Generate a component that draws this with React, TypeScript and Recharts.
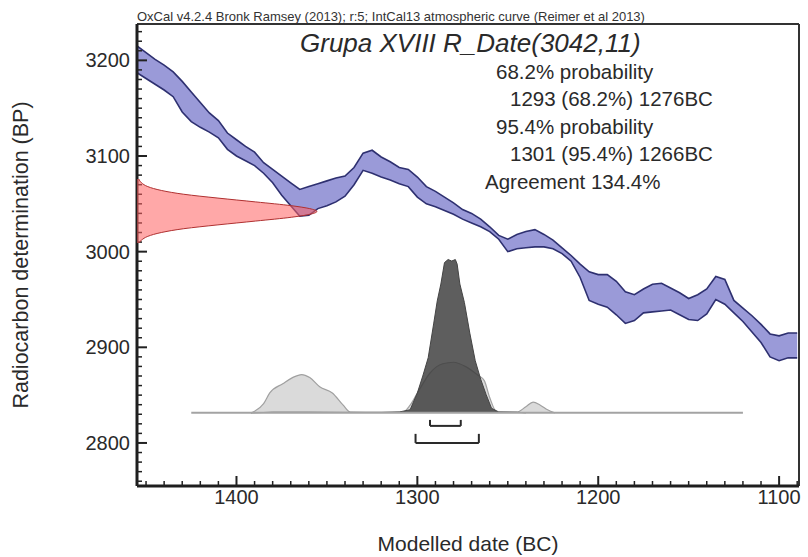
import React from 'react';
import { Area, ComposedChart, ReferenceLine, XAxis, YAxis } from 'recharts';

const W = 808;
const H = 557;
const FONT = '"Liberation Sans", Arial, sans-serif';
const INK = '#2a2a2a';

// axis ranges (years BC run right-to-left, so the x axis is reversed)
const X_DOMAIN = [1089, 1455];
const Y_DOMAIN = [2755, 3238];
const PROB_DOMAIN = [-0.477, 2.536];
const DATE_DOMAIN = [0, 3.68];

const X_TICKS = [
  1450, 1440, 1430, 1420, 1410, 1400, 1390, 1380, 1370, 1360, 1350, 1340, 1330,
  1320, 1310, 1300, 1290, 1280, 1270, 1260, 1250, 1240, 1230, 1220, 1210, 1200,
  1190, 1180, 1170, 1160, 1150, 1140, 1130, 1120, 1110, 1100, 1090,
];
const X_LABELS = [1400, 1300, 1200, 1100];
const Y_TICKS = [
  2760, 2770, 2780, 2790, 2800, 2810, 2820, 2830, 2840, 2850, 2860, 2870, 2880,
  2890, 2900, 2910, 2920, 2930, 2940, 2950, 2960, 2970, 2980, 2990, 3000, 3010,
  3020, 3030, 3040, 3050, 3060, 3070, 3080, 3090, 3100, 3110, 3120, 3130, 3140,
  3150, 3160, 3170, 3180, 3190, 3200, 3210, 3220, 3230,
];
const Y_LABELS = [2800, 2900, 3000, 3100, 3200];

// IntCal13 band, upper and lower edge (BP) every 5 years
const CURVE_YEARS = [
  1455, 1450, 1445, 1440, 1435, 1430, 1425, 1420, 1415, 1410, 1405, 1400, 1395,
  1390, 1385, 1380, 1375, 1370, 1365, 1360, 1355, 1350, 1345, 1340, 1335, 1330,
  1325, 1320, 1315, 1310, 1305, 1300, 1295, 1290, 1285, 1280, 1275, 1270, 1265,
  1260, 1255, 1250, 1245, 1240, 1235, 1230, 1225, 1220, 1215, 1210, 1205, 1200,
  1195, 1190, 1185, 1180, 1175, 1170, 1165, 1160, 1155, 1150, 1145, 1140, 1135,
  1130, 1125, 1120, 1115, 1110, 1105, 1100, 1095, 1090,
];
const CURVE_HI = [
  3215, 3208, 3201, 3195, 3188, 3178, 3167, 3156, 3145, 3137, 3124, 3117, 3110,
  3104, 3093, 3086, 3079, 3072, 3065, 3068, 3071, 3074, 3077, 3079, 3088, 3103,
  3106, 3099, 3094, 3088, 3086, 3078, 3068, 3063, 3057, 3051, 3044, 3040, 3034,
  3026, 3017, 3013, 3018, 3021, 3023, 3018, 3012, 3004, 2996, 2987, 2979, 2976,
  2976, 2969, 2958, 2955, 2961, 2966, 2967, 2962, 2957, 2951, 2955, 2961, 2974,
  2971, 2949, 2941, 2933, 2924, 2914, 2912, 2915, 2915,
];
const CURVE_LO = [
  3187, 3181, 3175, 3169, 3162, 3146, 3136, 3130, 3125, 3119, 3107, 3100, 3095,
  3090, 3082, 3072, 3059, 3048, 3037, 3038, 3045, 3048, 3052, 3058, 3070, 3085,
  3082, 3078, 3075, 3071, 3068, 3057, 3050, 3047, 3043, 3039, 3034, 3030, 3026,
  3021, 3013, 3000, 3003, 3004, 3005, 3005, 3003, 2998, 2990, 2973, 2949, 2945,
  2942, 2934, 2925, 2928, 2936, 2937, 2938, 2939, 2934, 2929, 2928, 2935, 2950,
  2945, 2936, 2927, 2916, 2905, 2890, 2886, 2889, 2889,
];

// R_Date(3042,11) on the y axis, relative probability
const DATE_BP = [
  3076, 3072, 3068, 3064, 3060, 3056, 3052, 3048, 3045, 3042, 3039, 3036, 3032,
  3028, 3024, 3020, 3016, 3012, 3009,
];
const DATE_P = [
  0.01, 0.025, 0.06, 0.135, 0.26, 0.45, 0.66, 0.86, 0.96, 1, 0.96, 0.86, 0.66,
  0.45, 0.26, 0.135, 0.06, 0.025, 0.01,
];

// unmodelled (light) and modelled (dark) calendar distributions
const LIKE_YEARS = [
  1392, 1390, 1385, 1381.6, 1374.4, 1369, 1364, 1359.5, 1354, 1347, 1341, 1337,
  1320, 1308, 1304, 1299, 1293, 1286, 1280, 1273, 1267, 1263, 1260, 1256, 1245,
  1240, 1236, 1232, 1228, 1224,
];
const LIKE_P = [
  0, 0.01, 0.06, 0.13, 0.19, 0.23, 0.25, 0.23, 0.17, 0.13, 0.05, 0.005, 0.003,
  0.005, 0.05, 0.15, 0.26, 0.32, 0.33, 0.3, 0.25, 0.21, 0.1, 0.005, 0.005, 0.04,
  0.07, 0.05, 0.02, 0,
];
const POST_YEARS = [
  1392, 1380, 1360, 1340, 1320, 1310, 1304, 1300, 1297, 1294, 1291, 1289, 1287,
  1285, 1283, 1281, 1279, 1278, 1276.5, 1274, 1271, 1268, 1265, 1262, 1259, 1255,
  1245, 1240,
];
const POST_P = [
  0, 0.004, 0.004, 0.003, 0.003, 0.006, 0.02, 0.13, 0.24, 0.36, 0.58, 0.73, 0.84,
  0.98, 1, 0.99, 1, 0.97, 0.84, 0.72, 0.52, 0.34, 0.22, 0.12, 0.03, 0.006, 0.004, 0,
];

const RANGE_68 = [1293, 1276];
const RANGE_95 = [1301, 1266];

const TITLE = 'Grupa XVIII R_Date(3042,11)';
const CAPTION =
  'OxCal v4.2.4 Bronk Ramsey (2013); r:5; IntCal13 atmospheric curve (Reimer et al 2013)';
const STATS = [
  { text: '68.2% probability', left: 496, top: 62 },
  { text: '1293 (68.2%) 1276BC', left: 510, top: 89 },
  { text: '95.4% probability', left: 496, top: 117 },
  { text: '1301 (95.4%) 1266BC', left: 510, top: 144 },
  { text: 'Agreement 134.4%', left: 485, top: 172 },
];

function XTick({ x, y, payload }: any) {
  const major = X_LABELS.includes(payload.value);
  return (
    <g>
      <line x1={x} x2={x} y1={y} y2={y - (major ? 10 : 5)} stroke="#222" strokeWidth={major ? 2 : 1.5} />
      {major && (
        <text x={x} y={y + 18} textAnchor="middle" fontSize={20} fill={INK} fontFamily={FONT}>
          {payload.value}
        </text>
      )}
    </g>
  );
}

function YTick({ x, y, payload }: any) {
  const major = Y_LABELS.includes(payload.value);
  return (
    <g>
      <line x1={x} x2={x + (major ? 10 : 5)} y1={y} y2={y} stroke="#222" strokeWidth={major ? 2 : 1.5} />
      {major && (
        <text x={x - 7} y={y} dy="0.35em" textAnchor="end" fontSize={20} fill={INK} fontFamily={FONT}>
          {payload.value}
        </text>
      )}
    </g>
  );
}

function bracket(range: number[], low: number, high: number, key: string) {
  const common = { yAxisId: 'prob', stroke: '#2a2a2a', strokeWidth: 2 };
  return [
    <ReferenceLine key={key + 'h'} {...common} segment={[{ x: range[0], y: low }, { x: range[1], y: low }]} />,
    <ReferenceLine key={key + 'l'} {...common} segment={[{ x: range[0], y: low }, { x: range[0], y: high }]} />,
    <ReferenceLine key={key + 'r'} {...common} segment={[{ x: range[1], y: low }, { x: range[1], y: high }]} />,
  ];
}

export default function App() {
  const curve = CURVE_YEARS.map((year, i) => ({ year, band: [CURVE_LO[i], CURVE_HI[i]] }));
  const likelihood = LIKE_YEARS.map((year, i) => ({ year, p: LIKE_P[i] }));
  const posterior = POST_YEARS.map((year, i) => ({ year, p: POST_P[i] }));
  const date = DATE_BP.map((bp, i) => ({ bp, p: DATE_P[i] }));

  return (
    <div style={{ position: 'fixed', left: 0, top: 0, width: W, height: H, background: '#fff', fontFamily: FONT, color: INK }}>
      <div style={{ position: 'absolute', left: 0, top: 0 }}>
        <ComposedChart width={W} height={H} margin={{ top: 24, right: 9, bottom: 0, left: 0 }}>
          <XAxis
            dataKey="year"
            type="number"
            domain={X_DOMAIN}
            reversed
            allowDataOverflow
            ticks={X_TICKS}
            interval={0}
            tickSize={0}
            tickMargin={0}
            tickLine={false}
            tick={(p: any) => <XTick {...p} />}
            height={71}
            axisLine={{ stroke: '#1e1e1e', strokeWidth: 3 }}
          />
          <YAxis
            type="number"
            domain={Y_DOMAIN}
            allowDataOverflow
            ticks={Y_TICKS}
            interval={0}
            tickSize={0}
            tickMargin={0}
            tickLine={false}
            tick={(p: any) => <YTick {...p} />}
            width={137}
            axisLine={{ stroke: '#1e1e1e', strokeWidth: 3 }}
          />
          <YAxis yAxisId="prob" type="number" domain={PROB_DOMAIN} allowDataOverflow hide />
          <ReferenceLine y={Y_DOMAIN[1]} stroke="#333" strokeWidth={2} />
          <ReferenceLine x={X_DOMAIN[0]} stroke="#333" strokeWidth={2} />
          <Area
            data={curve}
            dataKey="band"
            type="linear"
            stroke="#2e3070"
            strokeWidth={1.6}
            fill="#9a9ad8"
            fillOpacity={1}
            isAnimationActive={false}
          />
          <ReferenceLine
            yAxisId="prob"
            segment={[{ x: 1425, y: 0 }, { x: 1120, y: 0 }]}
            stroke="#a3a3a3"
            strokeWidth={2}
          />
          <Area
            data={likelihood}
            yAxisId="prob"
            dataKey="p"
            type="monotone"
            baseValue={0}
            stroke="#a0a0a0"
            strokeWidth={1.2}
            fill="#dadada"
            fillOpacity={1}
            isAnimationActive={false}
          />
          <Area
            data={posterior}
            yAxisId="prob"
            dataKey="p"
            type="linear"
            baseValue={0}
            stroke="#444"
            strokeWidth={1}
            fill="#3a3a3a"
            fillOpacity={0.82}
            isAnimationActive={false}
          />
          {bracket(RANGE_68, -0.085, -0.046, 'b68')}
          {bracket(RANGE_95, -0.196, -0.137, 'b95')}
        </ComposedChart>
      </div>
      <div style={{ position: 'absolute', left: 0, top: 0 }}>
        <ComposedChart layout="vertical" width={W} height={H} data={date} margin={{ top: 24, right: 9, bottom: 71, left: 137 }}>
          <XAxis type="number" domain={DATE_DOMAIN} allowDataOverflow hide />
          <YAxis type="number" dataKey="bp" domain={Y_DOMAIN} reversed allowDataOverflow hide />
          <Area
            dataKey="p"
            type="monotone"
            baseValue={0}
            stroke="#b03030"
            strokeWidth={1}
            fill="#ff6060"
            fillOpacity={0.55}
            isAnimationActive={false}
          />
        </ComposedChart>
      </div>
      <div style={{ position: 'absolute', left: 137, top: 10, fontSize: 13, lineHeight: 1, whiteSpace: 'nowrap', color: '#333' }}>
        {CAPTION}
      </div>
      <div style={{ position: 'absolute', left: 300, top: 30, fontSize: 26, fontStyle: 'italic', lineHeight: 1, whiteSpace: 'nowrap' }}>
        {TITLE}
      </div>
      {STATS.map((s) => (
        <div key={s.text} style={{ position: 'absolute', left: s.left, top: s.top, fontSize: 20.5, lineHeight: 1, whiteSpace: 'nowrap' }}>
          {s.text}
        </div>
      ))}
      <div
        style={{
          position: 'absolute',
          left: 22,
          top: 255,
          fontSize: 21.5,
          lineHeight: 1,
          whiteSpace: 'nowrap',
          transform: 'translate(-50%, -50%) rotate(-90deg)',
        }}
      >
        Radiocarbon determination (BP)
      </div>
      <div
        style={{
          position: 'absolute',
          left: 468,
          top: 543,
          fontSize: 21,
          lineHeight: 1,
          whiteSpace: 'nowrap',
          transform: 'translate(-50%, -50%)',
        }}
      >
        Modelled date (BC)
      </div>
    </div>
  );
}
